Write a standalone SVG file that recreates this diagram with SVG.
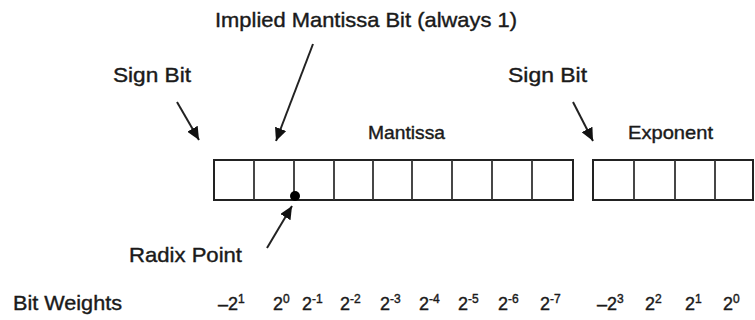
<svg xmlns="http://www.w3.org/2000/svg" width="755" height="320" viewBox="0 0 755 320">
<style>
.t{font-family:"Liberation Sans",Arial,sans-serif;fill:#1a1a1a;stroke:#1a1a1a;stroke-width:0.4;}
.lbl{font-size:21px;}
.fld{font-size:19px;}
.w{font-size:18px;}
.s{font-size:12px;}
.cell{fill:#fff;stroke:#222;stroke-width:2;}
.div{stroke:#333;stroke-width:1.8;}
.arr{stroke:#222;stroke-width:2;fill:none;marker-end:url(#ah);}
</style>
<defs>
<marker id="ah" markerUnits="userSpaceOnUse" markerWidth="14" markerHeight="12" refX="13" refY="6" orient="auto">
<path d="M0,0 L13,6 L0,12 z" fill="#111"/>
</marker>
</defs>
<rect width="755" height="320" fill="#fff"/>
<g id="mantissa-field">
<rect class="cell" x="214" y="160" width="359" height="40"/>
<path class="div" d="M254,160V200M294,160V200M334,160V200M373,160V200M412,160V200M452,160V200M492,160V200M532,160V200"/>
<circle cx="295" cy="196" r="5" fill="#000"/>
</g>
<g id="exponent-field">
<rect class="cell" x="593" y="160" width="160" height="40"/>
<path class="div" d="M634,160V200M675,160V200M715,160V200"/>
</g>
<g id="labels">
<text class="t lbl" x="215" y="27" textLength="302" lengthAdjust="spacingAndGlyphs">Implied Mantissa Bit (always 1)</text>
<text class="t lbl" x="113" y="82" textLength="78" lengthAdjust="spacingAndGlyphs">Sign Bit</text>
<text class="t lbl" x="508" y="82" textLength="79" lengthAdjust="spacingAndGlyphs">Sign Bit</text>
<text class="t fld" x="368" y="139" textLength="77" lengthAdjust="spacingAndGlyphs">Mantissa</text>
<text class="t fld" x="628" y="139" textLength="85" lengthAdjust="spacingAndGlyphs">Exponent</text>
<text class="t lbl" x="129" y="262" textLength="113" lengthAdjust="spacingAndGlyphs">Radix Point</text>
<text class="t lbl" x="13" y="310" textLength="109" lengthAdjust="spacingAndGlyphs">Bit Weights</text>
</g>
<g id="weights" class="t w">
<text x="218" y="310">–2<tspan class="s" dy="-7">1</tspan></text>
<text x="273" y="310">2<tspan class="s" dy="-7">0</tspan></text>
<text x="302" y="310">2<tspan class="s" dy="-7">-1</tspan></text>
<text x="340" y="310">2<tspan class="s" dy="-7">-2</tspan></text>
<text x="380" y="310">2<tspan class="s" dy="-7">-3</tspan></text>
<text x="419" y="310">2<tspan class="s" dy="-7">-4</tspan></text>
<text x="458" y="310">2<tspan class="s" dy="-7">-5</tspan></text>
<text x="498" y="310">2<tspan class="s" dy="-7">-6</tspan></text>
<text x="540" y="310">2<tspan class="s" dy="-7">-7</tspan></text>
<text x="597" y="310">–2<tspan class="s" dy="-7">3</tspan></text>
<text x="645" y="310">2<tspan class="s" dy="-7">2</tspan></text>
<text x="685" y="310">2<tspan class="s" dy="-7">1</tspan></text>
<text x="723" y="310">2<tspan class="s" dy="-7">0</tspan></text>
</g>
<g id="connectors">
<line class="arr" x1="177" y1="102" x2="199" y2="140"/>
<line class="arr" x1="313" y1="44" x2="276" y2="141"/>
<line class="arr" x1="573" y1="102" x2="593" y2="141"/>
<line class="arr" x1="267" y1="248" x2="292" y2="206"/>
</g>
</svg>
